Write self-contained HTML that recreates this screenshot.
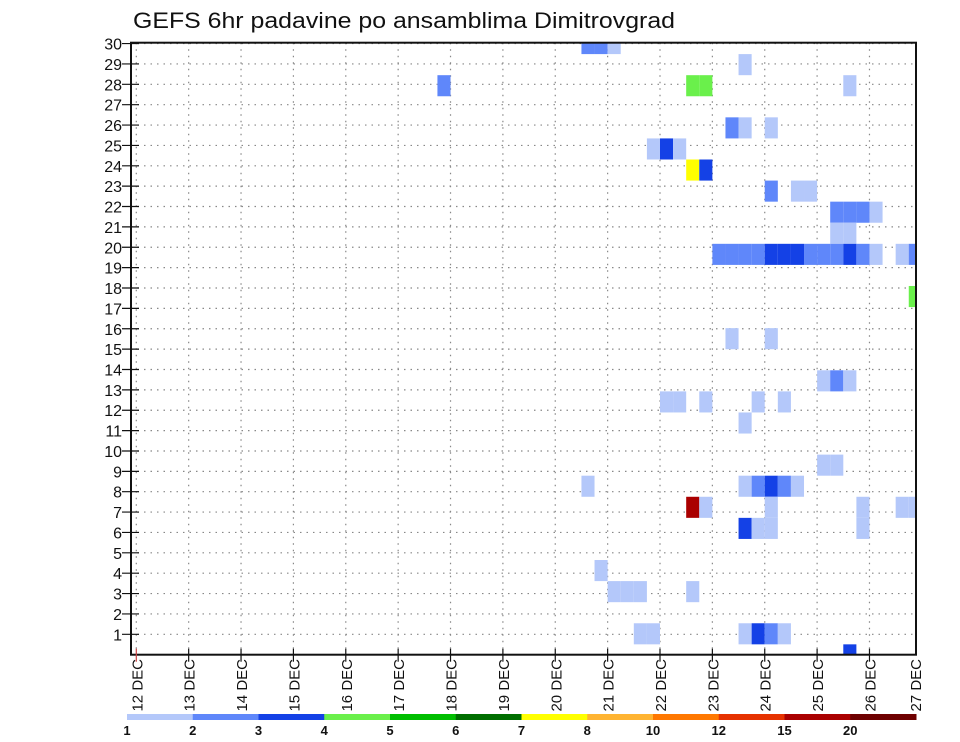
<!DOCTYPE html>
<html><head><meta charset="utf-8"><style>
html,body{margin:0;padding:0;background:#fff;}
svg{display:block;font-family:"Liberation Sans",sans-serif;}
</style></head><body>
<svg id="chart" width="960" height="742" viewBox="0 0 960 742" xmlns="http://www.w3.org/2000/svg">
<text x="133" y="28" font-size="22" textLength="542" lengthAdjust="spacingAndGlyphs" fill="#111">GEFS 6hr padavine po ansamblima Dimitrovgrad</text>
<g id="grid"></g>
<g id="cells"></g>
<g id="axes"></g>
<g id="legend"></g>
</svg>
<script>
// categories
const memberLabels = [1,2,3,4,5,6,7,8,9,10,11,12,13,14,15,16,17,18,19,20,21,22,23,24,25,26,27,28,29,30];
const dayLabels = ["12 DEC","13 DEC","14 DEC","15 DEC","16 DEC","17 DEC","18 DEC","19 DEC","20 DEC","21 DEC","22 DEC","23 DEC","24 DEC","25 DEC","26 DEC","27 DEC"];
// cells: ensemble member index, 6-hr step (ending) since 12 DEC 00Z, precipitation value (mm)
const cellMember = [29,29,29, 28, 27,27,27,27, 25,25,25, 24,24,24, 23,23, 22,22,22, 21,21,21,21, 20,20,
 19,19,19,19,19,19,19,19,19,19,19,19,19,19,19,19, 17, 15,15, 13,13,13, 12,12,12,12,12, 11, 9,9,
 8,8,8,8,8,8, 7,7,7,7,7,7, 6,6,6,6, 4, 3,3,3,3, 1,1,1,1,1,1, 0];
const cellStep = [35,36,37, 47, 43,44,55,24, 46,47,49, 40,41,42, 43,44, 49,51,52, 54,55,56,57, 54,55,
 45,46,47,48,49,50,51,52,53,54,55,56,57,59,60, 58, 60, 46,49, 53,54,55, 41,42,44,48,50, 47, 53,54,
 35,47,48,49,50,51, 43,44,49,56,59,60, 47,48,49,56, 36, 37,38,39,43, 39,40,47,48,49,50, 55];
const cellValue = [2.5,2.5,1.5, 1.5, 4.5,4.5,1.5,2.5, 2.5,1.5,1.5, 1.5,3.5,1.5, 7.5,3.5, 2.5,1.5,1.5, 2.5,2.5,2.5,1.5, 1.5,1.5,
 2.5,2.5,2.5,2.5,3.5,3.5,3.5,2.5,2.5,2.5,3.5,2.5,1.5,1.5,2.5, 0, 4.5, 1.5,1.5, 1.5,2.5,1.5, 1.5,1.5,1.5,1.5,1.5, 1.5, 1.5,1.5,
 1.5,1.5,2.5,3.5,2.5,1.5, 17,1.5,1.5,1.5,1.5,1.5, 3.5,1.5,1.5,1.5, 1.5, 1.5,1.5,1.5,1.5, 1.5,1.5,1.5,3.5,2.5,1.5, 3.5];
// legend
const levelLabels = ["1","2","3","4","5","6","7","8","10","12","15","20"];
const levelValues = [1,2,3,4,5,6,7,8,10,12,15,20];
const levelColors = ["#b4c8fa","#5f87fa","#1441e6","#6af04b","#00be00","#006e00","#ffff00","#ffb432","#ff7800","#e63200","#aa0000","#6e0000"];

const NS="http://www.w3.org/2000/svg";
const L=131, R=916, T=42.7, B=654.7;
const dayPx=52.37, x0=136.3;
function xStep(s){return x0+s*dayPx/4;}
function xDay(d){return x0+d*dayPx;}
function yLabel(k){return 634.3-(k-1)*20.37;}
function yMember(m){return 633.8-(m-1)*21.08;}
function colorFor(v){let c=null;for(let i=0;i<levelValues.length;i++){if(v>=levelValues[i])c=levelColors[i];}return c;}
function mk(tag,attrs,parent){const e=document.createElementNS(NS,tag);for(const k in attrs)e.setAttribute(k,attrs[k]);parent.appendChild(e);return e;}

const grid=document.getElementById('grid');
memberLabels.forEach(k=>{
  const ln=mk('line',{x1:L,x2:R,y1:yLabel(k),y2:yLabel(k),stroke:'#888','stroke-width':1.2,'stroke-dasharray':'1.5 5'},grid);
  
  
});
dayLabels.forEach((d,i)=>{
  const x=xDay(i); if(x>R)return;
  const ln=mk('line',{x1:x,x2:x,y1:T,y2:B,stroke:'#888','stroke-width':1.2,'stroke-dasharray':'1.5 5'},grid);
  
  
});

const cells=document.getElementById('cells');
mk('clipPath',{id:'clip'},cells);
document.getElementById('clip').appendChild(Object.assign(document.createElementNS(NS,'rect'),{}));
const cr=document.querySelector('#clip rect');cr.setAttribute('x',L);cr.setAttribute('y',T);cr.setAttribute('width',R-L);cr.setAttribute('height',B-T);
const cg=mk('g',{'clip-path':'url(#clip)'},cells);
for(let i=0;i<cellValue.length;i++){
  const col=colorFor(cellValue[i]); if(!col)continue;
  const x1=xStep(cellStep[i]-1), x2=xStep(cellStep[i]);
  const yc=yMember(cellMember[i]);
  const r=mk('rect',{x:x1,y:yc-10.54,width:x2-x1,height:21.08,fill:col},cg);
  
  
}

const axes=document.getElementById('axes');
const fr=mk('rect',{x:L,y:T,width:R-L,height:B-T,fill:'none',stroke:'#111','stroke-width':2},axes);


memberLabels.forEach(k=>{
  const y=yLabel(k);
  mk('line',{x1:122,x2:139,y1:y,y2:y,stroke:'#111','stroke-width':1.2},axes);
  const t=mk('text',{x:122,y:y+6,'font-size':16,'text-anchor':'end',fill:'#111'},axes);
  t.textContent=k;
  
  
});
dayLabels.forEach((d,i)=>{
  let x=xDay(i); if(x>R)x=915;
  if(i<15) mk('line',{x1:x,x2:x,y1:B-6,y2:B+7,stroke:i==0?'#c44':'#111','stroke-width':1.2},axes);
  const t=mk('text',{x:0,y:0,'font-size':15,'text-anchor':'end',fill:'#111',transform:`translate(${x+6},659) rotate(-90)`},axes);
  t.textContent=d;
  
  
});

const leg=document.getElementById('legend');
const lx0=127, lw=(916-127)/levelColors.length;
levelColors.forEach((c,i)=>{
  const r=mk('rect',{x:lx0+i*lw,y:714,width:lw+0.5,height:6,fill:c},leg);
  
  
  const t=mk('text',{x:lx0+i*lw,y:735,'font-size':13,'font-weight':'bold','text-anchor':'middle',fill:'#111'},leg);
  t.textContent=levelLabels[i];
  
  
});
</script>
</body></html>
